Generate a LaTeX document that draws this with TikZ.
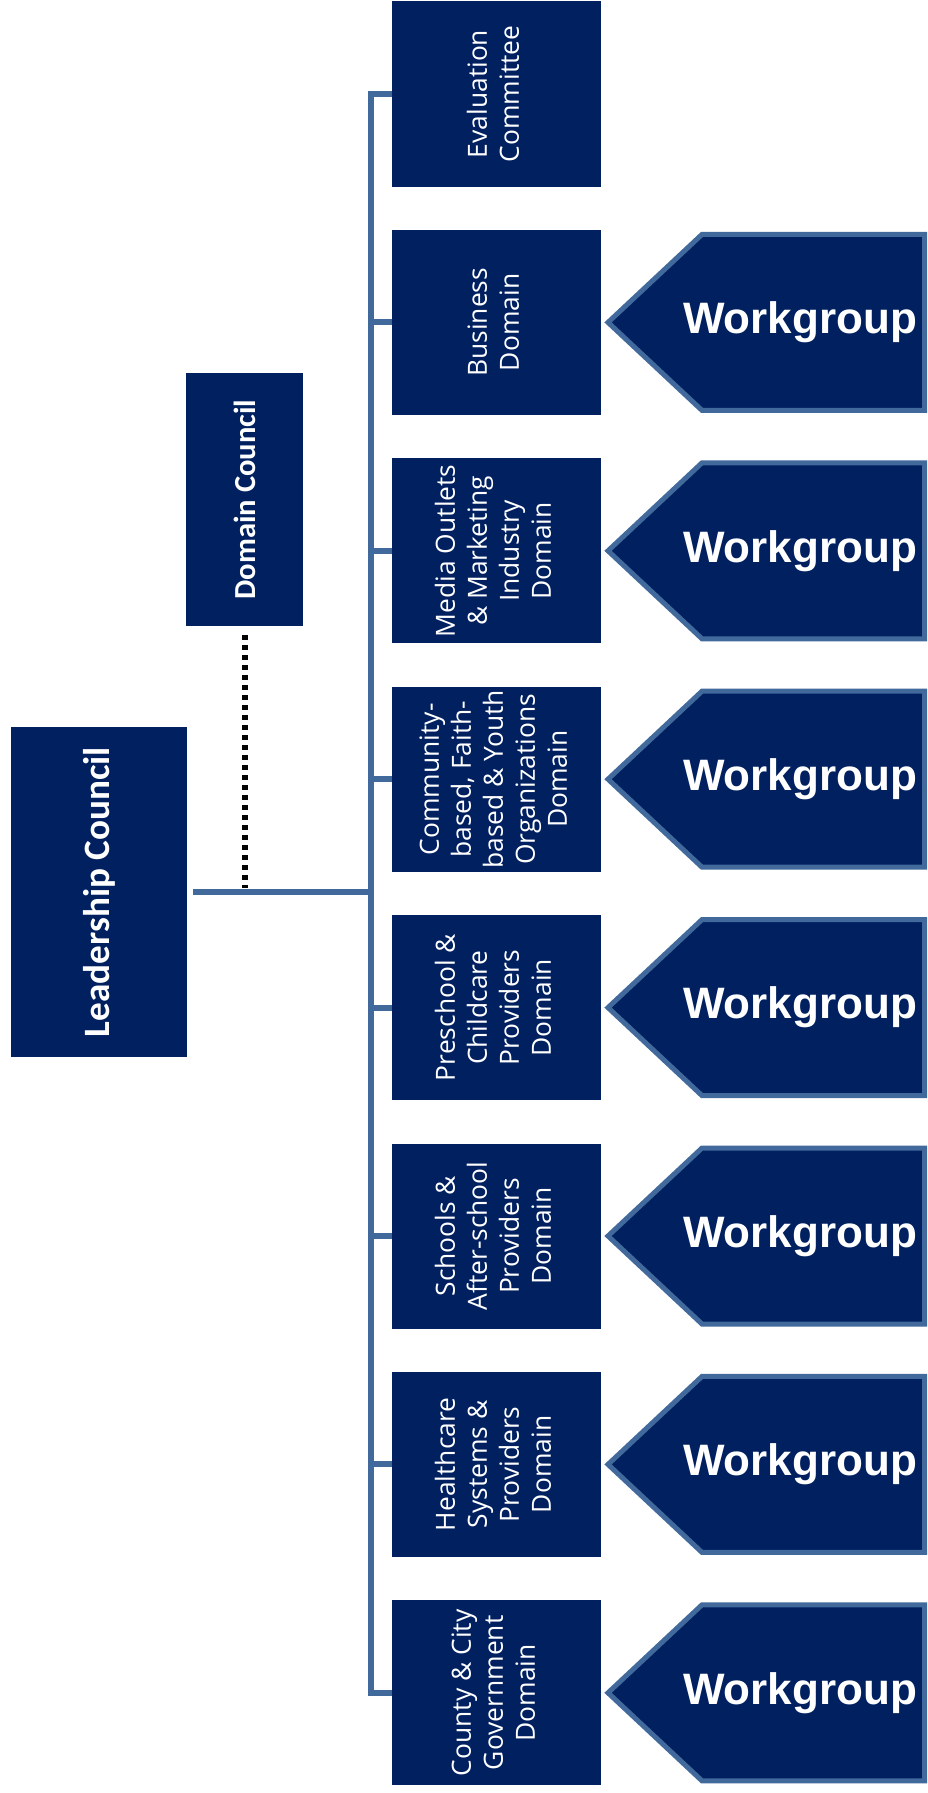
\documentclass[tikz,border=0pt]{standalone}
\usepackage{fontspec}
\usepackage{graphicx}
\usepackage{xcolor}
\newfontfamily\domfont{Open Sans}
\newfontfamily\calfont{Carlito}
\newfontfamily\wgfont{Liberation Sans}
\definecolor{navy}{HTML}{002060}
\definecolor{steel}{HTML}{41699B}

\begin{document}
\begin{tikzpicture}[x=0.5pt,y=-0.5pt,
  council/.style={fill=navy,text=white,inner sep=0pt,font=\calfont\bfseries},
  domainbox/.style={fill=navy,text=white,inner sep=0pt,minimum width=104.5pt,minimum height=92.5pt,
    font=\domfont\fontsize{13.2}{16}\selectfont},
  link/.style={draw=steel,line width=3pt},
  dotline/.style={draw=black,line width=3pt,dash pattern=on 2.5pt off 2.5pt},
  wgshape/.style={fill=navy,draw=steel,line width=2.5pt,line join=miter},
  wgtext/.style={text=white,inner sep=0pt,font=\wgfont\bfseries\fontsize{22}{26}\selectfont}]
\useasboundingbox (0,0) rectangle (927,1793);

\node[council,minimum width=88pt,minimum height=165pt] (lead) at (99,892)
  {\rotatebox{90}{\fontsize{18.6}{22}\selectfont Leadership Council}};
\node[council,minimum width=58.5pt,minimum height=126.5pt] (dc) at (244.5,499.5)
  {\rotatebox{90}{\fontsize{15.3}{18}\selectfont Domain Council}};

\foreach \i/\txt in {0/{Evaluation\\Committee},1/{Business\\Domain},
  2/{Media Outlets\\\& Marketing\\Industry\\Domain},
  3/{Community-\\based, Faith-\\based \& Youth\\Organizations\\Domain},
  4/{Preschool \&\\Childcare\\Providers\\Domain},
  5/{Schools \&\\After-school\\Providers\\Domain},
  6/{Healthcare\\Systems \&\\Providers\\Domain},
  7/{County \& City\\Government\\Domain}}{
  \pgfmathsetmacro\yy{94+228.4*\i}
  \node[domainbox] (d\i) at (496.5,\yy) {\rotatebox{90}{\begin{tabular}{@{}c@{}}\txt\end{tabular}}};
  \coordinate (s\i) at (371,\yy);
}

\foreach \i in {1,...,7}{
  \pgfmathsetmacro\yy{94+228.4*\i}
  \draw[wgshape] (608,\yy) -- (702,\yy-88) -- (924.5,\yy-88) -- (924.5,\yy+88) -- (702,\yy+88) -- cycle;
  \node[wgtext] (wg\i) at (800,\yy) {Workgroup};
}

\draw[link,line join=miter] (d0.west) -- (s0) -- (s7) -- (d7.west);
\foreach \i in {1,...,6}
  \draw[link] (s\i) -- (d\i.west);
\draw[link] ([xshift=3pt]lead.east) -- (lead.east -| s0);
\draw[dotline] ([yshift=-4.5pt]dc.south) -- ([yshift=2pt]dc.south |- lead.east);
\end{tikzpicture}
\end{document}
